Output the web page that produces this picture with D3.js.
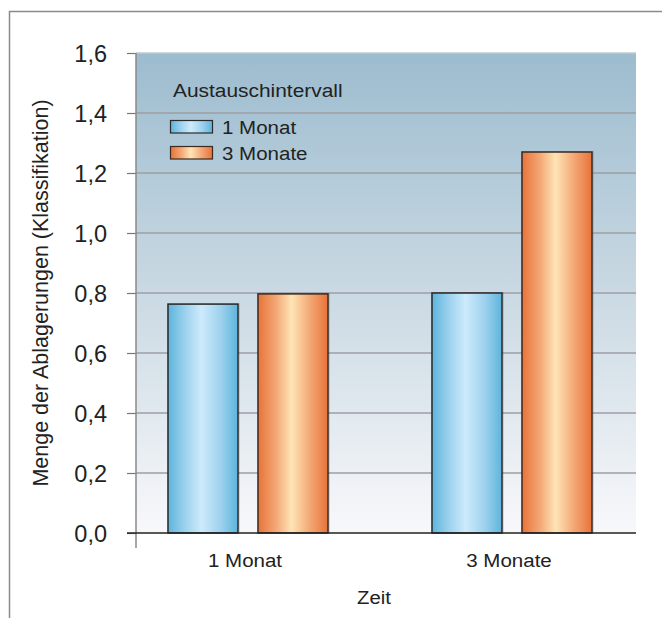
<!DOCTYPE html>
<html>
<head>
<meta charset="utf-8">
<script src="https://cdn.jsdelivr.net/npm/d3@7"></script>
<style>
  html, body { margin: 0; padding: 0; background: #fff; }
  svg { display: block; font-family: "Liberation Sans", Arial, Helvetica, sans-serif; }
</style>
</head>
<body>
<script>
// Categories on the x axis (time) and the two replacement-interval series
const groups = ["1 Monat", "3 Monate"];
const seriesNames = ["1 Monat", "3 Monate"];
const values1Monat = [0.763, 0.800];
const values3Monate = [0.797, 1.270];
const yTicks = [0, 0.2, 0.4, 0.6, 0.8, 1.0, 1.2, 1.4, 1.6];
const yTickLabels = ["0,0", "0,2", "0,4", "0,6", "0,8", "1,0", "1,2", "1,4", "1,6"];
const legendTitle = "Austauschintervall";
const yTitle = "Menge der Ablagerungen (Klassifikation)";
const xTitle = "Zeit";

const W = 662, H = 618;
const plot = { left: 136, right: 636, top: 53, bottom: 533 };

const svg = d3.select("body").append("svg").attr("width", W).attr("height", H);
const defs = svg.append("defs");

// background of the plotting area: blue-grey fading to white
const bg = defs.append("linearGradient").attr("id", "bgGrad")
  .attr("x1", 0).attr("y1", 0).attr("x2", 0).attr("y2", 1);
bg.append("stop").attr("offset", "0%").attr("stop-color", "#9cbccf");
bg.append("stop").attr("offset", "50%").attr("stop-color", "#cad9e3");
bg.append("stop").attr("offset", "100%").attr("stop-color", "#f8f8fb");

// cylindrical shading for the bars
function barGradient(id, edge, mid, light) {
  const g = defs.append("linearGradient").attr("id", id)
    .attr("x1", 0).attr("y1", 0).attr("x2", 1).attr("y2", 0);
  g.append("stop").attr("offset", "0%").attr("stop-color", edge);
  g.append("stop").attr("offset", "25%").attr("stop-color", mid);
  g.append("stop").attr("offset", "48%").attr("stop-color", light);
  g.append("stop").attr("offset", "75%").attr("stop-color", mid);
  g.append("stop").attr("offset", "100%").attr("stop-color", edge);
}
barGradient("blueGrad", "#5db4dc", "#9ed2ee", "#cdeafb");
barGradient("orangeGrad", "#e8733a", "#f3a673", "#ffe4b6");

const fills = { "1 Monat": "url(#blueGrad)", "3 Monate": "url(#orangeGrad)" };
const strokes = { "1 Monat": "#2a2a2a", "3 Monate": "#3a2a22" };

// frame around the figure (top and left edges)
svg.append("path")
  .attr("d", `M9.5,${H} L9.5,11.5 L${W},11.5`)
  .attr("fill", "none").attr("stroke", "#8a8a8a").attr("stroke-width", 1.5);

// scales
const y = d3.scaleLinear().domain([0, 1.6]).range([plot.bottom, plot.top]);
const x0 = d3.scaleBand().domain(groups).range([116, 644]);
const x1 = d3.scaleBand().domain(seriesNames).range([-80, 80]).paddingInner(2 / 9);

// plot background
svg.append("rect")
  .attr("x", plot.left).attr("y", plot.top)
  .attr("width", plot.right - plot.left).attr("height", plot.bottom - plot.top)
  .attr("fill", "url(#bgGrad)");

// horizontal gridlines
svg.append("g").selectAll("line").data(yTicks.filter(t => t > 0)).join("line")
  .attr("x1", plot.left).attr("x2", plot.right)
  .attr("y1", d => y(d)).attr("y2", d => y(d))
  .attr("stroke", d => d === 1.6 ? "#c4c8cc" : "#9c9fa3")
  .attr("stroke-width", 1.5);

// y axis with comma-decimal labels
const yAxis = d3.axisLeft(y).tickValues(yTicks)
  .tickFormat((d, i) => yTickLabels[i]).tickSize(9).tickPadding(20);
const gy = svg.append("g").attr("transform", `translate(${plot.left},0)`).call(yAxis);
gy.select(".domain").remove();
gy.selectAll(".tick line").attr("stroke", "#777").attr("stroke-width", 1.2);
gy.selectAll(".tick text")
  .attr("font-size", 23.5).attr("fill", "#222").attr("dy", "0.36em");
svg.append("line")
  .attr("x1", plot.left).attr("x2", plot.left)
  .attr("y1", plot.top).attr("y2", plot.bottom + 15)
  .attr("stroke", "#8a8a8a").attr("stroke-width", 1.5);

// bars
const data = groups.map((g, i) => ({
  group: g,
  items: [
    { series: "1 Monat", value: values1Monat[i] },
    { series: "3 Monate", value: values3Monate[i] }
  ]
}));
const gg = svg.append("g").selectAll("g").data(data).join("g")
  .attr("transform", d => `translate(${x0(d.group) + x0.bandwidth() / 2},0)`);
// soft drop shadow
gg.selectAll("rect.shadow").data(d => d.items).join("rect").attr("class", "shadow")
  .attr("x", d => x1(d.series) - 1).attr("y", d => y(d.value) - 1)
  .attr("width", x1.bandwidth() + 3).attr("height", d => y(0) - y(d.value) + 1)
  .attr("fill", "#000").attr("opacity", 0.12);
gg.selectAll("rect.bar").data(d => d.items).join("rect").attr("class", "bar")
  .attr("x", d => x1(d.series)).attr("y", d => y(d.value))
  .attr("width", x1.bandwidth()).attr("height", d => y(0) - y(d.value))
  .attr("fill", d => fills[d.series])
  .attr("stroke", d => strokes[d.series]).attr("stroke-width", 1.5);

// x baseline
svg.append("line")
  .attr("x1", plot.left - 9).attr("x2", plot.right)
  .attr("y1", plot.bottom).attr("y2", plot.bottom)
  .attr("stroke", "#222").attr("stroke-width", 1.5);

// helper for (slightly widened) text
function label(txt, x, yy, size, anchor, sx, rotate) {
  const rot = rotate ? ` rotate(${rotate})` : "";
  return svg.append("text")
    .attr("transform", `translate(${x},${yy})${rot} scale(${sx},1)`)
    .attr("text-anchor", anchor).attr("font-size", size).attr("fill", "#222")
    .text(txt);
}

// x category labels
groups.forEach(g => label(g, x0(g) + x0.bandwidth() / 2 - 3, 567, 19, "middle", 1.08));
// axis titles
label(xTitle, 374, 604, 19, "middle", 1.07);
label(yTitle, 48, 293, 21.5, "middle", 1.0, -90);

// legend
label(legendTitle, 173, 97, 19, "start", 1.1);
seriesNames.forEach((s, i) => {
  const ly = 120 + i * 26;
  svg.append("rect").attr("x", 170.5).attr("y", ly + 0.5).attr("width", 42).attr("height", 12.5)
    .attr("fill", fills[s]).attr("stroke", strokes[s]).attr("stroke-width", 1.2);
  label(s, 222, ly + 14, 19, "start", 1.08);
});
</script>
</body>
</html>
